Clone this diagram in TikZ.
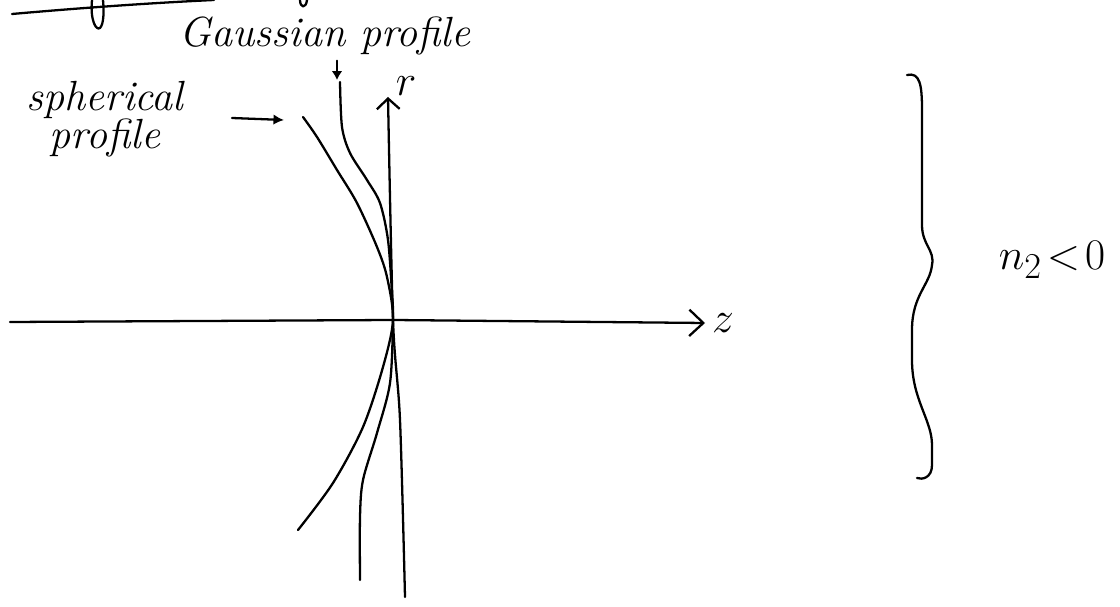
\documentclass[tikz,border=0pt]{standalone}
\usepackage{xcolor}
\usetikzlibrary{arrows.meta}
\usetikzlibrary{math, positioning}
\tikzset{
 hand/.style={font=\fontsize{24}{26}\selectfont\itshape},
 stroke/.style={line width=1.3pt, line cap=round, line join=round}
}

\begin{document}
\begin{tikzpicture}[x=0.02cm,y=-0.02cm]
\tikzmath{
\zy=320;
\ox=393;
}
\useasboundingbox (0,0) rectangle (1120,607);

\coordinate (O) at (\ox,\zy);
\coordinate (zL) at (10,322);
\coordinate (zR) at (705,323);
\coordinate (rB) at (405,597);
\coordinate (rT) at (388,97);

 \draw[stroke] (12,14) .. controls (80,8) and (150,3) .. (214,0);
 \draw[stroke] (92,0) .. controls (90,20) and (96,31) .. (100,28) .. controls (104,24) and (104,10) .. (103,0);
 \draw[stroke] (300,0) .. controls (300,8) and (306,9) .. (307,0);

 \draw[stroke,-{Straight Barb[length=8pt,width=15pt]}] (zL) -- (O) -- (zR) node[right,hand,font=\fontsize{28}{30}\selectfont]{$z$};
 \draw[stroke,-{Straight Barb[length=6pt,width=13pt]}] plot[smooth] coordinates {(rB) (400,420) (O) (rT)};
 \node[hand,font=\fontsize{28}{30}\selectfont,inner sep=1pt] (rlab) at (406,86) {$r$};

 \draw[stroke] plot[smooth] coordinates {(340,82) (342,127) (350,153) (367,180) (380,203) (388,240) (392,293) (O) (390,383) (377,433) (363,480) (360,517) (360,580)};
 \draw[stroke] plot[smooth] coordinates {(303,117) (317,137) (337,170) (357,203) (377,247) (387,277) (O) (383,367) (363,427) (333,483) (298,530)};

 \node[hand,inner sep=1pt] (gauss) at (325,36) {Gaussian profile};
 \coordinate (gtip) at (337,80);
 \draw[stroke,-{Latex[length=5pt,width=6pt]}] ([yshift=-2pt]gtip |- gauss.south) -- (gtip);

 \node[hand] (sph) at (105,100) {spherical};
 \node[hand,below=-7pt of sph] (prof) {profile};
 \coordinate (stip) at (284,120);
 \draw[stroke,-{Latex[length=6pt,width=6pt]}] (232,118) -- (stip);

 \draw[stroke] (907,75) .. controls (920,72) and (922,85) .. (922,110) -- (922,225)
  .. controls (922,245) and (935,250) .. (932,265)
  .. controls (930,285) and (912,295) .. (912,330) -- (912,360)
  .. controls (912,400) and (932,420) .. (932,445) -- (932,465)
  .. controls (932,478) and (922,480) .. (917,478);
 \node[font=\fontsize{30}{32}\selectfont] (cond) at (1052,260) {$n_2\!<\!0$};
\end{tikzpicture}
\end{document}
